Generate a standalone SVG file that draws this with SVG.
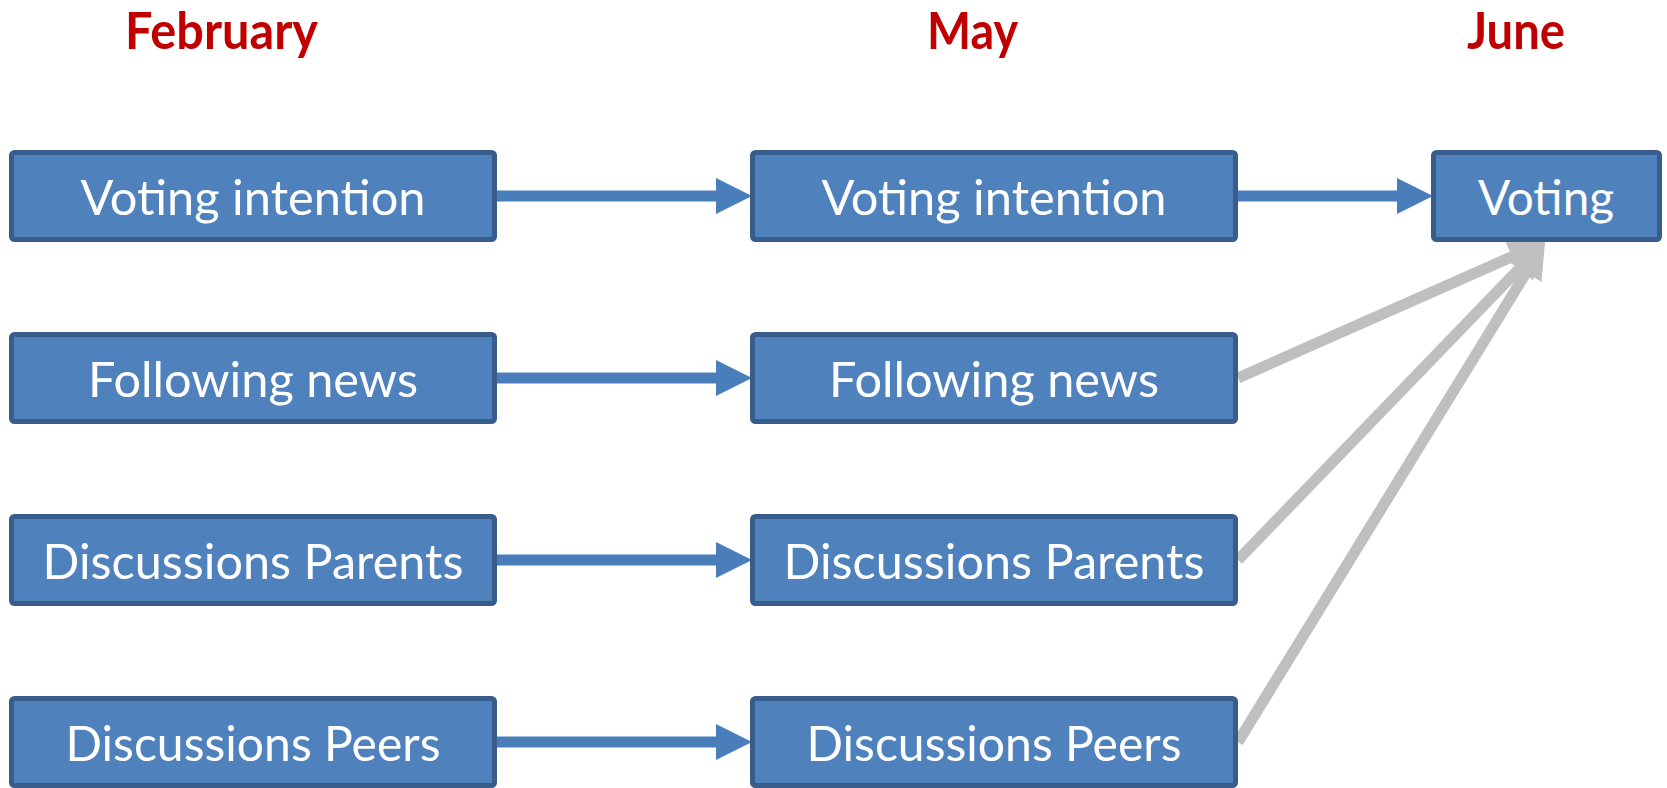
<svg xmlns="http://www.w3.org/2000/svg" width="1667" height="788" viewBox="0 0 1667 788">
<style>
.box{fill:#4F81BD;stroke:#385D8A;stroke-width:5}
.lbl{font-family:Lato,"Open Sans","Liberation Sans",sans-serif;font-size:48px;fill:#FFFFFF;text-anchor:middle}
.ttl{font-family:Lato,"Open Sans","Liberation Sans",sans-serif;font-size:52px;font-weight:bold;fill:#C00000;text-anchor:middle}
.blue{stroke:#4A7EBB;stroke-width:11;fill:none;marker-end:url(#hb)}
.gray{stroke:#BFBFBF;stroke-width:11;fill:none;marker-end:url(#hg)}
</style>
<defs>
<marker id="hb" markerUnits="userSpaceOnUse" markerWidth="36" markerHeight="36" refX="0" refY="18" orient="auto" overflow="visible"><path d="M0,0 L36,18 L0,36 z" fill="#4A7EBB"/></marker>
<marker id="hg" markerUnits="userSpaceOnUse" markerWidth="36" markerHeight="36" refX="0" refY="18" orient="auto" overflow="visible"><path d="M0,0 L36,18 L0,36 z" fill="#BFBFBF"/></marker>
</defs>
<g id="titles">
<text class="ttl" x="221.5" y="49" textLength="193" lengthAdjust="spacingAndGlyphs">February</text>
<text class="ttl" x="972.5" y="49" textLength="91" lengthAdjust="spacingAndGlyphs">May</text>
<text class="ttl" x="1516" y="49" textLength="98" lengthAdjust="spacingAndGlyphs">June</text>
</g>
<g id="connectors">
<line class="blue" x1="497" y1="196" x2="716" y2="196"/>
<line class="blue" x1="497" y1="378" x2="716" y2="378"/>
<line class="blue" x1="497" y1="560" x2="716" y2="560"/>
<line class="blue" x1="497" y1="742" x2="716" y2="742"/>
<line class="blue" x1="1238" y1="196" x2="1397" y2="196"/>
<line class="gray" x1="1238" y1="378" x2="1512.1" y2="256.6"/>
<line class="gray" x1="1238" y1="560" x2="1520.0" y2="267.9"/>
<line class="gray" x1="1238" y1="742" x2="1526.2" y2="272.7"/>
</g>
<g id="feb-voting-intention"><rect class="box" x="11.5" y="152.5" width="483" height="87" rx="3"/><text class="lbl" x="253" y="215" textLength="345" lengthAdjust="spacingAndGlyphs">Voting intention</text></g>
<g id="feb-following-news"><rect class="box" x="11.5" y="334.5" width="483" height="87" rx="3"/><text class="lbl" x="253" y="397" textLength="330" lengthAdjust="spacingAndGlyphs">Following news</text></g>
<g id="feb-discussions-parents"><rect class="box" x="11.5" y="516.5" width="483" height="87" rx="3"/><text class="lbl" x="253" y="579" textLength="421" lengthAdjust="spacingAndGlyphs">Discussions Parents</text></g>
<g id="feb-discussions-peers"><rect class="box" x="11.5" y="698.5" width="483" height="87" rx="3"/><text class="lbl" x="253" y="761" textLength="375" lengthAdjust="spacingAndGlyphs">Discussions Peers</text></g>
<g id="may-voting-intention"><rect class="box" x="752.5" y="152.5" width="483" height="87" rx="3"/><text class="lbl" x="994" y="215" textLength="345" lengthAdjust="spacingAndGlyphs">Voting intention</text></g>
<g id="may-following-news"><rect class="box" x="752.5" y="334.5" width="483" height="87" rx="3"/><text class="lbl" x="994" y="397" textLength="330" lengthAdjust="spacingAndGlyphs">Following news</text></g>
<g id="may-discussions-parents"><rect class="box" x="752.5" y="516.5" width="483" height="87" rx="3"/><text class="lbl" x="994" y="579" textLength="421" lengthAdjust="spacingAndGlyphs">Discussions Parents</text></g>
<g id="may-discussions-peers"><rect class="box" x="752.5" y="698.5" width="483" height="87" rx="3"/><text class="lbl" x="994" y="761" textLength="375" lengthAdjust="spacingAndGlyphs">Discussions Peers</text></g>
<g id="june-voting"><rect class="box" x="1433.5" y="152.5" width="226" height="87" rx="3"/><text class="lbl" x="1546" y="215" textLength="136" lengthAdjust="spacingAndGlyphs">Voting</text></g>
</svg>
